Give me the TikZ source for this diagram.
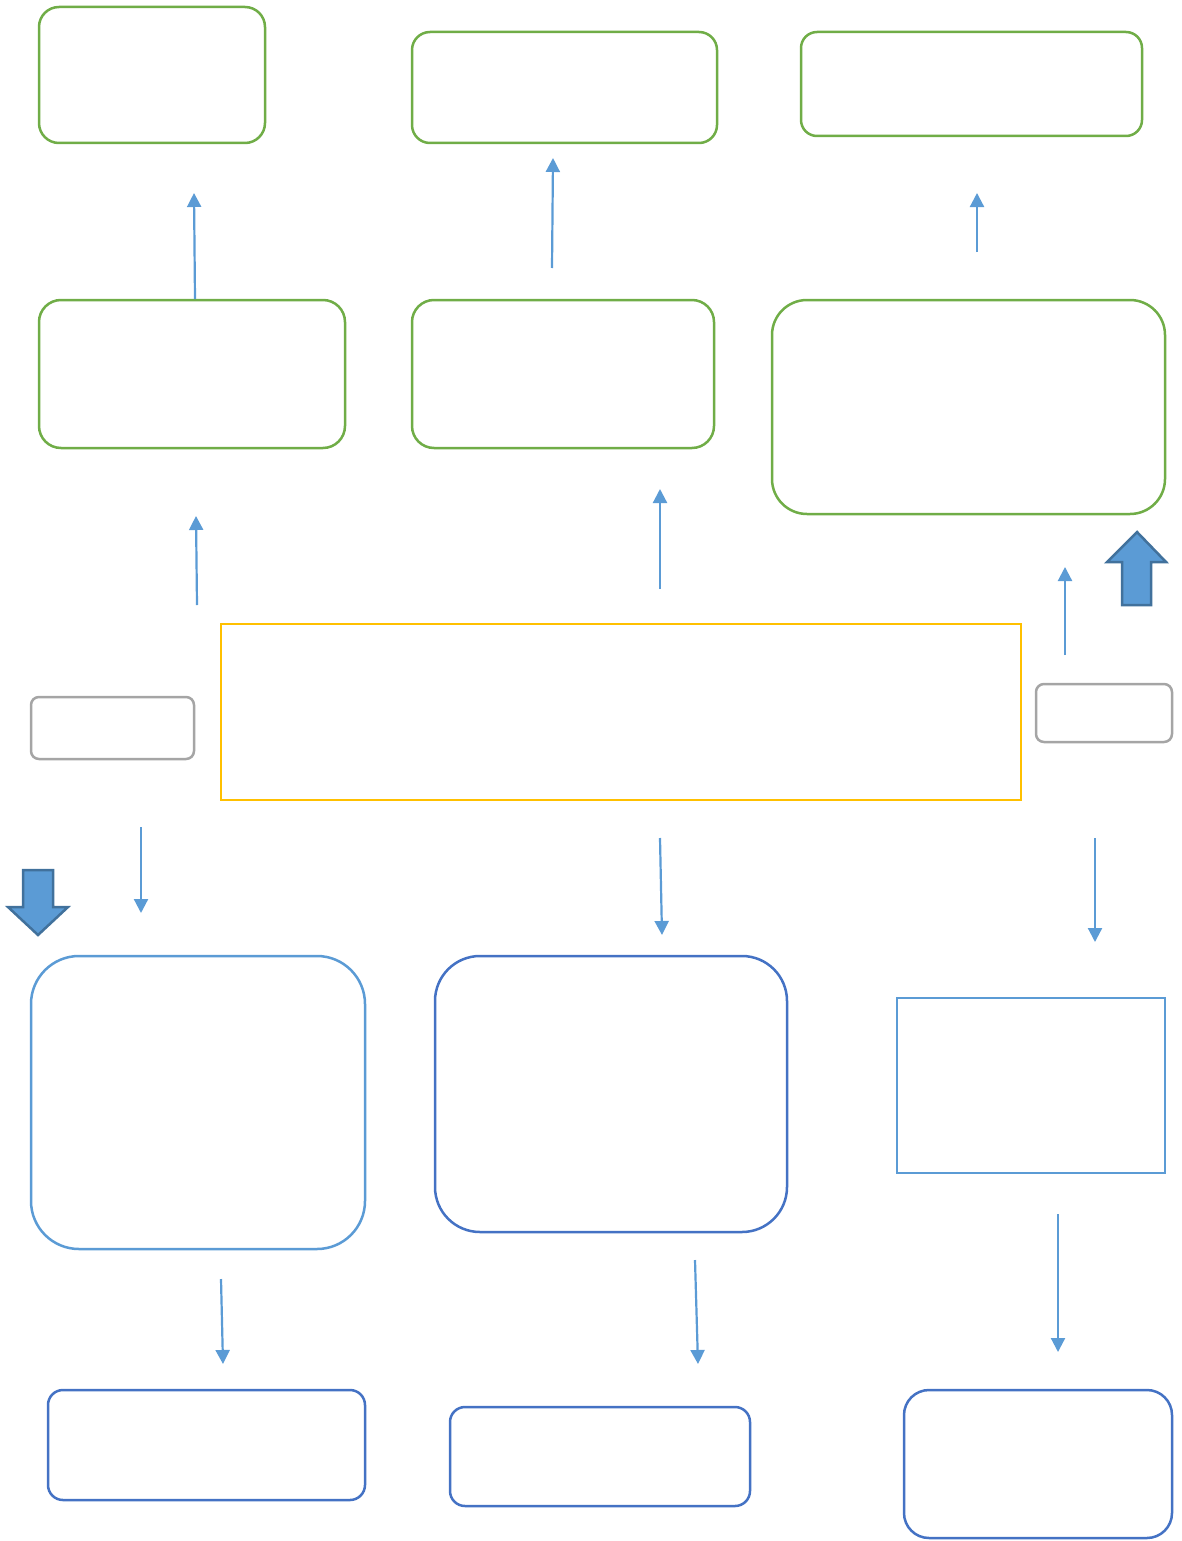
\documentclass[tikz,border=0pt]{standalone}
\usetikzlibrary{arrows.meta}
\definecolor{grn}{HTML}{70AD47}
\definecolor{lblue}{HTML}{5B9BD5}
\definecolor{dblue}{HTML}{4472C4}
\definecolor{ylw}{HTML}{FFC000}
\definecolor{gry}{HTML}{A5A5A5}
\definecolor{bedge}{HTML}{41719C}
\begin{document}
\begin{tikzpicture}[x=1pt,y=-1pt,
  box/.style={draw,line width=2.5pt,inner sep=0pt,fill=white},
  gbox/.style={box,draw=grn},
  lbbox/.style={box,draw=lblue},
  dbbox/.style={box,draw=dblue},
  graybox/.style={box,draw=gry,rounded corners=8pt},
  conn/.style={draw=lblue,line width=2.2pt,-{Triangle[length=14pt,width=14pt]}},
  blockarrow/.style={fill=lblue,draw=bedge,line width=2.5pt,line join=miter}]
\useasboundingbox (0,0) rectangle (1181,1541);
% green boxes
\node[gbox,rounded corners=20pt,minimum width=226pt,minimum height=136pt] (g1) at (152,75) {};
\node[gbox,rounded corners=18pt,minimum width=305pt,minimum height=111pt] (g2) at (564.5,87.5) {};
\node[gbox,rounded corners=16pt,minimum width=341pt,minimum height=104pt] (g3) at (971.5,84) {};
\node[gbox,rounded corners=22pt,minimum width=306pt,minimum height=148pt] (g4) at (192,374) {};
\node[gbox,rounded corners=22pt,minimum width=302pt,minimum height=148pt] (g5) at (563,374) {};
\node[gbox,rounded corners=35pt,minimum width=393pt,minimum height=214pt] (g6) at (968.5,407) {};
% central
\node[box,draw=ylw,minimum width=800pt,minimum height=176pt] (ctr) at (621,712) {};
\node[graybox,minimum width=163pt,minimum height=62pt] (gl) at (112.5,728) {};
\node[graybox,minimum width=136pt,minimum height=58pt] (gr) at (1104,713) {};
% blue boxes
\node[lbbox,rounded corners=48pt,minimum width=334pt,minimum height=293pt] (b1) at (198,1102.5) {};
\node[dbbox,rounded corners=45pt,minimum width=352pt,minimum height=276pt] (b2) at (611,1094) {};
\node[lbbox,minimum width=268pt,minimum height=175pt] (b3) at (1031,1085.5) {};
\node[dbbox,rounded corners=15pt,minimum width=317pt,minimum height=110pt] (b4) at (206.5,1445) {};
\node[dbbox,rounded corners=15pt,minimum width=300pt,minimum height=99pt] (b5) at (600,1456.5) {};
\node[dbbox,rounded corners=25pt,minimum width=268pt,minimum height=148pt] (b6) at (1038,1464) {};
% connector coordinates
\coordinate (a1s) at (195,299); \coordinate (a1e) at (194,193);
\coordinate (a2s) at (552,268); \coordinate (a2e) at (553,158);
\coordinate (a3s) at (977,252); \coordinate (a3e) at (977,193);
\coordinate (a4s) at (197,605); \coordinate (a4e) at (196,516);
\coordinate (a5s) at (660,589); \coordinate (a5e) at (660,489);
\coordinate (a6s) at (1065,655); \coordinate (a6e) at (1065,567);
\coordinate (a7s) at (141,827); \coordinate (a7e) at (141,913);
\coordinate (a8s) at (660,838); \coordinate (a8e) at (662,935);
\coordinate (a9s) at (1095,838); \coordinate (a9e) at (1095,942);
\coordinate (a10s) at (221,1279); \coordinate (a10e) at (223,1364);
\coordinate (a11s) at (695,1260); \coordinate (a11e) at (698,1364);
\coordinate (a12s) at (1058,1214); \coordinate (a12e) at (1058,1352);
\foreach \i in {1,...,12} {\draw[conn] (a\i s) -- (a\i e);}
% block arrows
\draw[blockarrow] (1137,532) -- (1166,562) -- (1151,562) -- (1151,605) -- (1122,605) -- (1122,562) -- (1107,562) -- cycle;
\draw[blockarrow] (38,935) -- (68,907) -- (53,907) -- (53,870) -- (23,870) -- (23,907) -- (8,907) -- cycle;
\end{tikzpicture}
\end{document}
